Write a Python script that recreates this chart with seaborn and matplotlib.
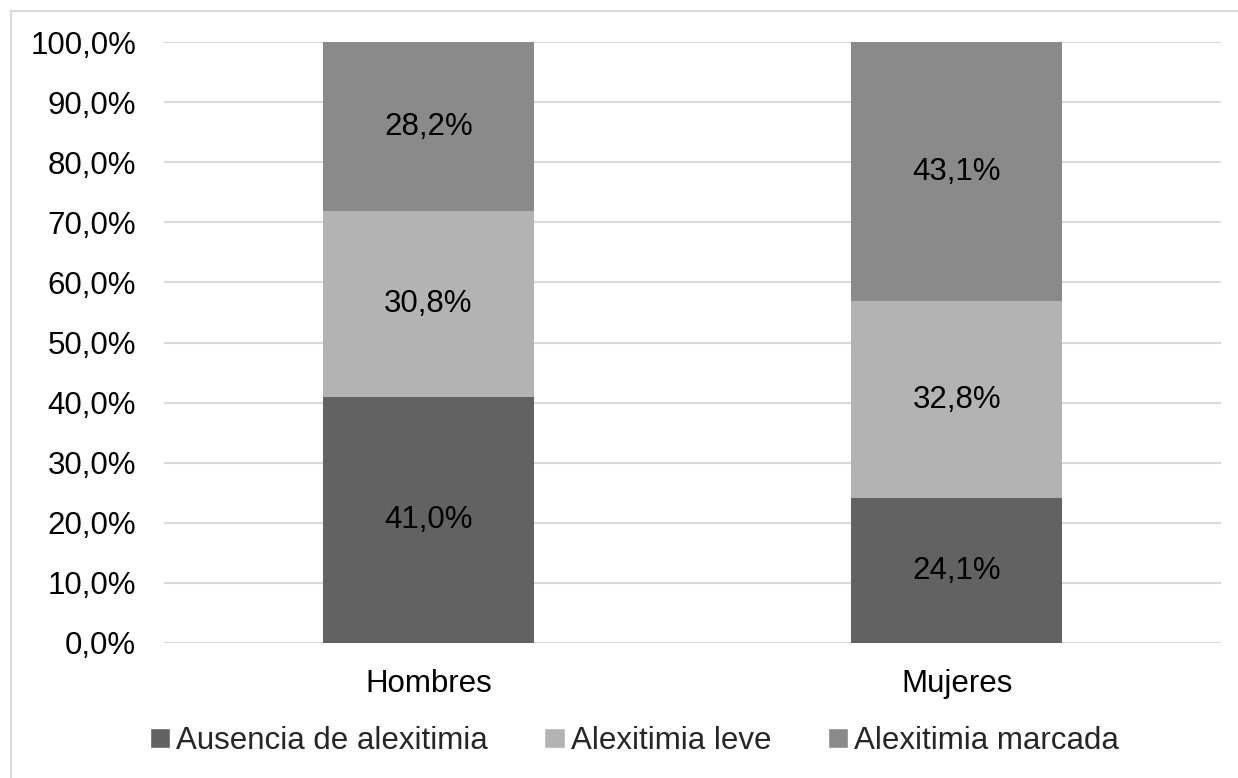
import numpy as np
import pandas as pd
import matplotlib.pyplot as plt
import seaborn as sns
from matplotlib.patches import Rectangle, Patch
from matplotlib.ticker import FuncFormatter

groups = ['Hombres', 'Mujeres']
levels = ['Ausencia de alexitimia', 'Alexitimia leve', 'Alexitimia marcada']
ausencia = [41.0, 24.1]
leve = [30.8, 32.8]
marcada = [28.2, 43.1]
colors = ['#626262', '#b3b3b3', '#8a8a8a']

sns.set_style('white')
plt.rcParams['font.family'] = ['Liberation Sans', 'DejaVu Sans']

df = pd.DataFrame({'group': groups, levels[0]: ausencia, levels[1]: leve, levels[2]: marcada})
cum = df[levels].cumsum(axis=1)

fig = plt.figure(figsize=(12.38, 7.78), dpi=100)
ax = fig.add_axes([164 / 1238, 1 - 643 / 778, (1221 - 164) / 1238, (643 - 42) / 778])

# draw from the top of the stack down so each layer covers the one above it
for lvl, col in reversed(list(zip(levels, colors))):
    sns.barplot(x=df['group'], y=cum[lvl], color=col, width=0.4, saturation=1,
                edgecolor='none', linewidth=0, ax=ax, zorder=2)

for i, g in enumerate(groups):
    bottom = 0
    for lvl in levels:
        v = df.loc[i, lvl]
        ax.text(i, bottom + v / 2, f'{v:.1f}%'.replace('.', ','), ha='center', va='center',
                fontsize=22.5, color='black', zorder=3)
        bottom += v

ax.set_ylim(0, 100)
ax.set_xlim(-0.5, 1.5)
ax.set_yticks(np.arange(0, 101, 10))
ax.yaxis.set_major_formatter(FuncFormatter(lambda v, p: f'{v:.1f}%'.replace('.', ',')))
ax.tick_params(axis='both', labelsize=22.5, length=0, colors='black')
ax.tick_params(axis='y', pad=20)
ax.tick_params(axis='x', pad=19)
ax.set_xlabel('')
ax.set_ylabel('')
ax.grid(axis='y', color='#d9d9d9', linewidth=1.5, zorder=0)
ax.set_axisbelow(True)
for s in ax.spines.values():
    s.set_visible(False)

handles = [Patch(facecolor=c, label=l) for l, c in zip(levels, colors)]
fig.legend(handles=handles, loc='center', bbox_to_anchor=(634.5 / 1238, 1 - 741 / 778), ncol=3,
           frameon=False, fontsize=22.5, handlelength=0.65, handleheight=0.65,
           handletextpad=0.2, columnspacing=1.8, borderaxespad=0, borderpad=0)

fig.patches.append(Rectangle((11 / 1238, -0.01), 1.1, 1 - 11 / 778 + 0.01, transform=fig.transFigure,
                             fill=False, edgecolor='#d9d9d9', linewidth=1.5))

fig.savefig('out.png', dpi=100)
